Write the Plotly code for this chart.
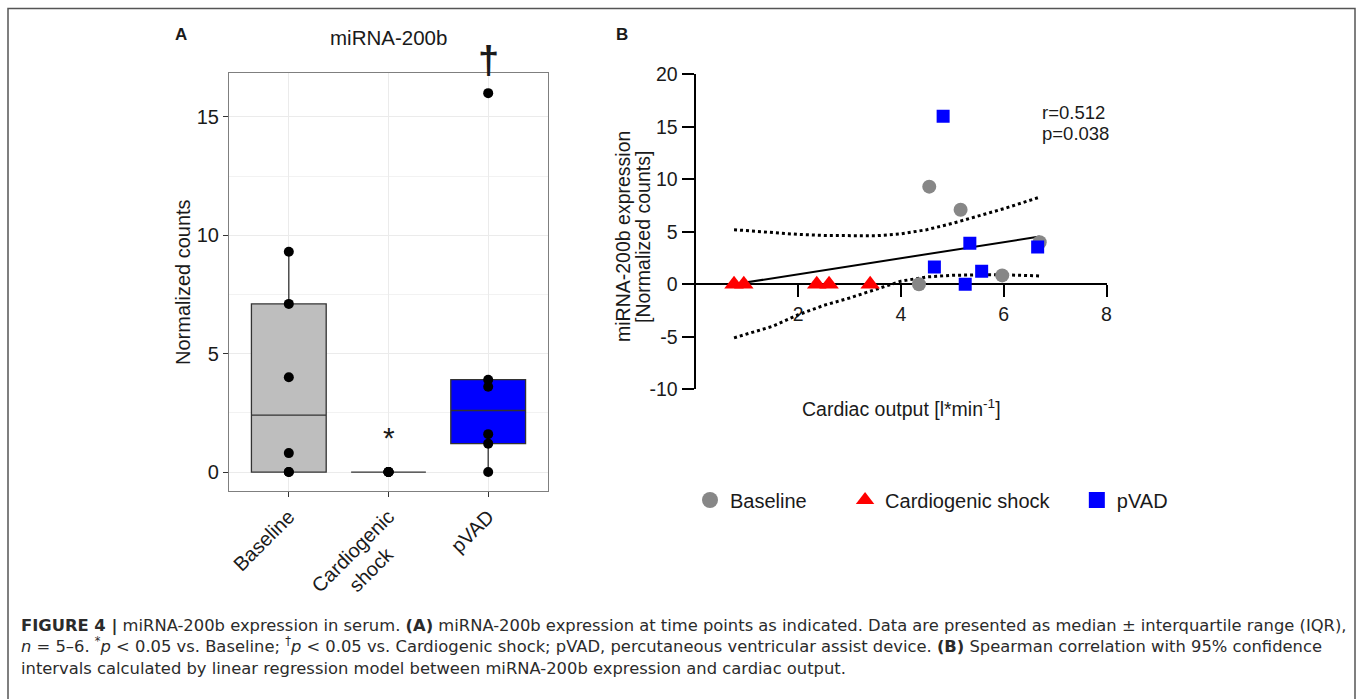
import plotly.graph_objects as go

W, H = 1358, 699

def px(x):
    return x / W

def py(y):
    return 1 - y / H

# ---------------- data ----------------
groups = ["Baseline", "Cardiogenic shock", "pVAD"]
group_ticks = ["Baseline", "Cardiogenic<br>shock&nbsp;&nbsp;&nbsp;&nbsp;&nbsp;", "pVAD"]
baseline_counts = [0.0, 0.0, 0.8, 4.0, 7.1, 9.3]
shock_counts = [0.0, 0.0, 0.0, 0.0, 0.0]
pvad_counts = [0.0, 1.2, 1.6, 3.6, 3.9, 16.0]
box_fill = ["#BEBEBE", "#FFFFFF", "#0000FF"]

# panel B scatter
base_co = [4.55, 5.16, 6.70, 5.97, 4.35]
base_expr = [9.3, 7.1, 4.0, 0.85, 0.0]
shock_co = [0.75, 0.94, 2.36, 2.60, 3.40]
shock_expr = [0.0, 0.0, 0.0, 0.0, 0.0]
pvad_co = [4.82, 5.34, 4.65, 5.57, 5.25, 6.66]
pvad_expr = [16.0, 3.9, 1.65, 1.25, 0.0, 3.55]

fit_x = [0.75, 6.7]
fit_y = [0.0, 4.55]
ci_x = [0.75, 1.5, 2.0, 2.5, 3.0, 3.5, 4.0, 4.5, 5.0, 5.5, 6.0, 6.7]
ci_upper = [5.2, 4.9, 4.75, 4.65, 4.6, 4.62, 4.8, 5.2, 5.8, 6.5, 7.2, 8.3]
ci_lower = [-5.1, -4.0, -2.9, -2.0, -1.3, -0.5, 0.3, 0.7, 0.86, 0.9, 0.9, 0.8]

y_ticks_a = [0, 5, 10, 15]
x_ticks_b = [2, 4, 6, 8]
y_ticks_b = [-10, -5, 0, 5, 10, 15, 20]
y_ticktext_b = ["-10", "-5", "0", "5", "10", "15", "20"]

legend_names = ["Baseline&nbsp;&nbsp;&nbsp;&nbsp;&nbsp;&nbsp;",
                "Cardiogenic shock&nbsp;&nbsp;&nbsp;&nbsp;",
                "pVAD"]
legend_symbols = ["circle", "triangle-up", "square"]
series_colors = ["#878787", "#FF0000", "#0000FF"]

FONT = "Liberation Sans, Arial, Helvetica, sans-serif"
CAP_FONT = "DejaVu Sans, Verdana, sans-serif"

fig = go.Figure()

# ---------------- panel A ----------------
for name, vals, fill in zip(groups, [baseline_counts, shock_counts, pvad_counts], box_fill):
    fig.add_trace(go.Box(
        x=[name] * len(vals), y=vals, name=name,
        quartilemethod="exclusive", boxpoints="outliers",
        marker=dict(color="rgba(0,0,0,0)", size=1),
        width=0.75, whiskerwidth=0,
        fillcolor=fill, line=dict(color="#333333", width=1.3),
        xaxis="x", yaxis="y", showlegend=False, hoverinfo="skip",
    ))
for name, vals in zip(groups, [baseline_counts, shock_counts, pvad_counts]):
    fig.add_trace(go.Scatter(
        x=[name] * len(vals), y=vals, mode="markers",
        marker=dict(color="black", size=10),
        xaxis="x", yaxis="y", showlegend=False, hoverinfo="skip",
    ))

# ---------------- panel B ----------------
fig.add_trace(go.Scatter(x=ci_x, y=ci_upper, mode="lines",
                         line=dict(color="black", width=3, dash="dot"),
                         xaxis="x2", yaxis="y2", showlegend=False, hoverinfo="skip"))
fig.add_trace(go.Scatter(x=ci_x, y=ci_lower, mode="lines",
                         line=dict(color="black", width=3, dash="dot"),
                         xaxis="x2", yaxis="y2", showlegend=False, hoverinfo="skip"))
fig.add_trace(go.Scatter(x=fit_x, y=fit_y, mode="lines",
                         line=dict(color="black", width=2),
                         xaxis="x2", yaxis="y2", showlegend=False, hoverinfo="skip"))
fig.add_trace(go.Scatter(x=base_co, y=base_expr, mode="markers", name="Baseline",
                         marker=dict(color=series_colors[0], size=14, symbol="circle"),
                         xaxis="x2", yaxis="y2", showlegend=False))
fig.add_trace(go.Scatter(x=shock_co, y=shock_expr, mode="markers", name="Cardiogenic shock",
                         marker=dict(color=series_colors[1], size=17, symbol="triangle-up"),
                         xaxis="x2", yaxis="y2", showlegend=False))
fig.add_trace(go.Scatter(x=pvad_co, y=pvad_expr, mode="markers", name="pVAD",
                         marker=dict(color=series_colors[2], size=13, symbol="square"),
                         xaxis="x2", yaxis="y2", showlegend=False))
# legend entries (larger symbols, as in the reference legend)
for nm, sym, col in zip(legend_names, legend_symbols, series_colors):
    fig.add_trace(go.Scatter(x=[None], y=[None], mode="markers", name=nm,
                             marker=dict(color=col, size=18, symbol=sym),
                             xaxis="x2", yaxis="y2", showlegend=True))

# domains (pixel based)
xa_dom = [px(229), px(548)]
ya_dom = [py(491), py(73)]
xb_dom = [px(695.5), px(1106.5)]
yb_dom = [py(389.3), py(74.3)]
yb_range = [-10, 20]
xaxis_b_pos = yb_dom[0] + (0 - yb_range[0]) / (yb_range[1] - yb_range[0]) * (yb_dom[1] - yb_dom[0])

fig.update_layout(
    width=W, height=H,
    margin=dict(l=0, r=0, t=0, b=0, autoexpand=False),
    paper_bgcolor="white", plot_bgcolor="white",
    font=dict(family=FONT, color="#1a1a1a"),
    boxmode="overlay",
    xaxis=dict(
        domain=xa_dom, anchor="y", type="category", automargin=False,
        categoryorder="array", categoryarray=groups,
        tickvals=groups, ticktext=group_ticks, tickangle=-45,
        range=[-0.6, 2.6],
        showgrid=True, gridcolor="#EBEBEB", gridwidth=1.2,
        showline=True, mirror=True, linecolor="#7f7f7f", linewidth=1.2,
        ticks="outside", ticklen=5, tickwidth=1.2, tickcolor="#333333",
        tickfont=dict(size=20, color="#1a1a1a"),
        zeroline=False,
    ),
    yaxis=dict(
        domain=ya_dom, anchor="x", range=[-0.8, 16.85], automargin=False,
        tickvals=y_ticks_a,
        showgrid=True, gridcolor="#EBEBEB", gridwidth=1.2,
        minor=dict(dtick=2.5, tick0=0, showgrid=True, gridcolor="#F2F2F2", gridwidth=0.8),
        showline=True, mirror=True, linecolor="#7f7f7f", linewidth=1.2,
        ticks="outside", ticklen=5, tickwidth=1.2, tickcolor="#333333",
        tickfont=dict(size=20, color="#1a1a1a"),
        zeroline=False,
    ),
    xaxis2=dict(
        domain=xb_dom, anchor="free", position=xaxis_b_pos, range=[0, 8], automargin=False,
        tickvals=x_ticks_b, showgrid=False, zeroline=False,
        showline=True, linecolor="black", linewidth=2,
        ticks="outside", ticklen=12, tickwidth=2, tickcolor="black",
        tickfont=dict(size=19.5, color="#1a1a1a"), layer="below traces",
    ),
    yaxis2=dict(
        domain=yb_dom, anchor="x2", range=yb_range, automargin=False,
        tickvals=y_ticks_b, ticktext=y_ticktext_b, showgrid=False, zeroline=False,
        showline=True, linecolor="black", linewidth=2,
        ticks="outside", ticklen=12, tickwidth=2, tickcolor="black",
        tickfont=dict(size=19.5, color="#1a1a1a"), layer="below traces",
    ),
    legend=dict(
        orientation="h", x=px(690), y=py(500), xanchor="left", yanchor="middle",
        font=dict(size=20, color="#1a1a1a"), bgcolor="rgba(0,0,0,0)",
        itemclick=False, itemdoubleclick=False,
    ),
    showlegend=True,
)

ann = []
def add_text(x, y, text, size, xanchor="center", yanchor="middle", angle=0, color="#1a1a1a",
             xref="paper", yref="paper", family=FONT, align="center"):
    ann.append(dict(x=x, y=y, xref=xref, yref=yref, text=text, showarrow=False,
                    xanchor=xanchor, yanchor=yanchor, textangle=angle, align=align,
                    font=dict(family=family, size=size, color=color)))

add_text(px(181), py(35), "<b>A</b>", 17)
add_text(px(622), py(35), "<b>B</b>", 17)
add_text(px(388.5), py(38), "miRNA-200b", 20.5)
add_text(px(183), py(282), "Normalized counts", 20, angle=-90)
add_text("pVAD", py(60), "<b>†</b>", 38, xref="x")
add_text("Cardiogenic shock", py(437), "*", 30, xref="x")
# panel B texts
add_text(px(623), py(237), "miRNA-200b expression", 19.5, angle=-90)
add_text(px(643), py(237), "[Normalized counts]", 19.5, angle=-90)
add_text(px(901), py(408), "Cardiac output [l*min<sup>-1</sup>]", 19.5)
add_text(px(1040), py(112), "r=0.512", 18.5, xanchor="left")
add_text(px(1040), py(133), "p=0.038", 18.5, xanchor="left")

cap_lines = [
    "<b>FIGURE 4 |</b> miRNA-200b expression in serum. <b>(A)</b> miRNA-200b expression at time points as indicated. Data are presented as median ± interquartile range (IQR),",
    "<i>n</i> = 5–6. <sup>*</sup><i>p</i> &lt; 0.05 vs. Baseline; <sup>†</sup><i>p</i> &lt; 0.05 vs. Cardiogenic shock; pVAD, percutaneous ventricular assist device. <b>(B)</b> Spearman correlation with 95% confidence",
    "intervals calculated by linear regression model between miRNA-200b expression and cardiac output.",
]
add_text(px(19), py(647), "<br>".join(cap_lines), 16.35, xanchor="left", align="left",
         color="#2b2b2b", family=CAP_FONT)

fig.update_layout(annotations=ann)

fig.add_shape(type="rect", xref="paper", yref="paper",
              x0=px(8), x1=px(1355), y0=-0.05, y1=py(8.5),
              line=dict(color="#555555", width=1.5), fillcolor="rgba(0,0,0,0)", layer="below")

fig.write_html(
    "out.html",
    config={"displayModeBar": False},
    post_script="document.body.style.margin='0px';document.body.style.overflow='hidden';",
)
